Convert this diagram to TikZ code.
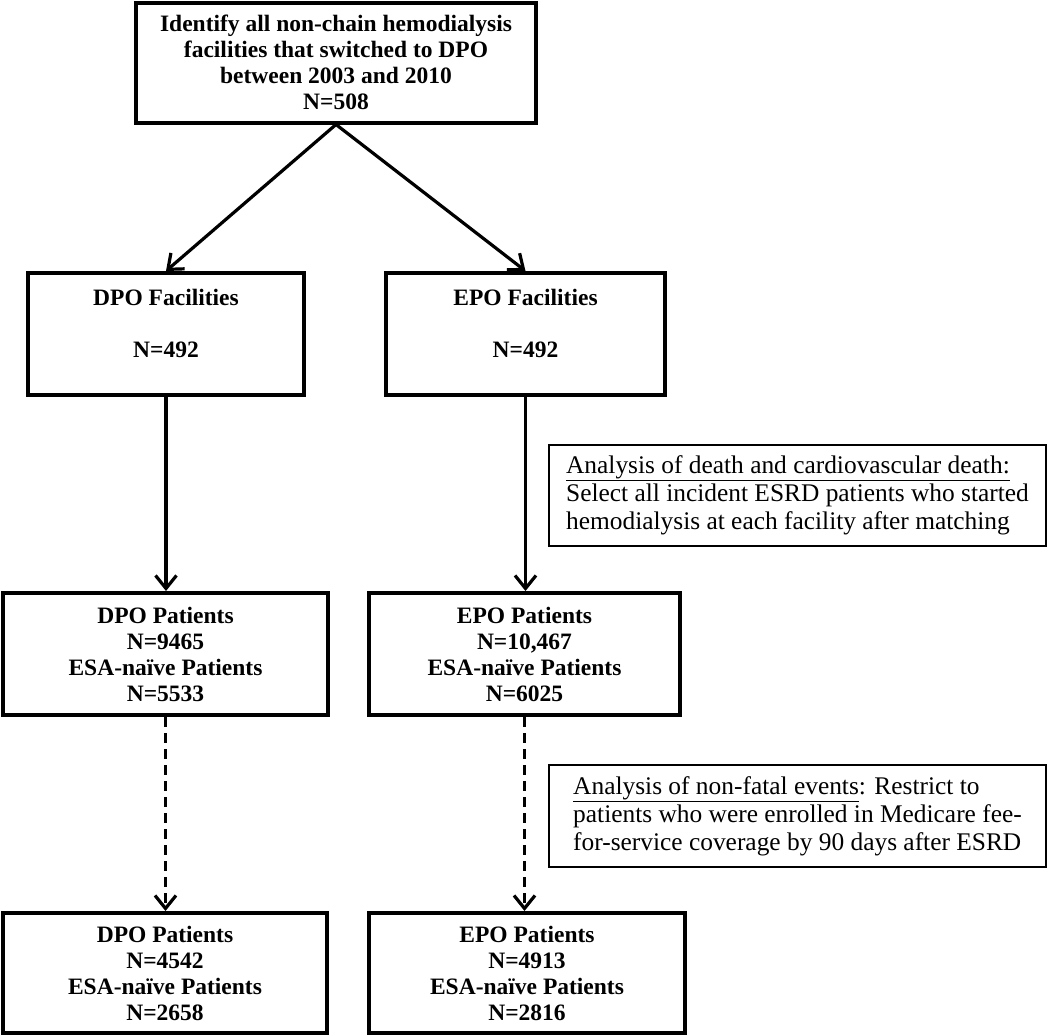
\documentclass[tikz,border=0pt]{standalone}
\usepackage{fontspec}
\setmainfont{Liberation Serif}
\usetikzlibrary{arrows.meta}
\begin{document}
\begin{tikzpicture}[x=1pt,y=-1pt,
  box/.style={draw, line width=4pt, inner sep=0pt, align=center,
    font=\fontsize{23.5}{26}\selectfont\bfseries},
  btext/.style={inner sep=0pt, align=center, font=\fontsize{23.5}{26}\selectfont\bfseries},
  note/.style={draw, line width=2pt, inner sep=0pt, align=left,
    font=\fontsize{25.4}{28}\selectfont},
  arr/.style={line width=3.2pt, -{Straight Barb[length=13pt,width=21pt]}},
  darr/.style={arr, dash pattern=on 10pt off 6pt}]
\useasboundingbox (0,0) rectangle (1050,1036);

\node[box, minimum width=400pt, minimum height=120pt] (top) at (336,62.5)
  {Identify all non-chain hemodialysis\\facilities that switched to DPO\\between 2003 and 2010\\N=508};

\node[box, minimum width=276pt, minimum height=122pt] (dpof) at (166,334) {};
\node[btext] (dpoft) at (166,323.5) {DPO Facilities\\[26pt]N=492};
\node[box, minimum width=279pt, minimum height=122pt] (epof) at (525.5,334) {};
\node[btext] (epoft) at (525.5,323.5) {EPO Facilities\\[26pt]N=492};

\node[box, minimum width=325pt, minimum height=122pt] (dpom) at (165.5,654)
  {DPO Patients\\N=9465\\ESA-naïve Patients\\N=5533};
\node[box, minimum width=311pt, minimum height=122pt] (epom) at (524.5,654)
  {EPO Patients\\N=10,467\\ESA-naïve Patients\\N=6025};

\node[box, minimum width=324pt, minimum height=120pt] (dpob) at (165,973)
  {DPO Patients\\N=4542\\ESA-naïve Patients\\N=2658};
\node[box, minimum width=316pt, minimum height=120pt] (epob) at (527,973)
  {EPO Patients\\N=4913\\ESA-naïve Patients\\N=2816};

\node[note, minimum width=497pt, minimum height=101pt] (note1) at (797.5,495.5)
  {\underline{Analysis of death and cardiovascular death:}\\Select all incident ESRD patients who started\\hemodialysis at each facility after matching};
\node[note, minimum width=497pt, minimum height=102pt] (note2) at (797.5,816)
  {\underline{Analysis of non-fatal events}: Restrict to\\patients who were enrolled in Medicare fee-\\for-service coverage by 90 days after ESRD};

\draw[arr] (top.south) -- (dpof.north);
\draw[arr] (top.south) -- (epof.north);
\draw[arr] (dpof.south) -- (dpof.south |- dpom.north);
\draw[arr] (epof.south) -- (epof.south |- epom.north);
\draw[darr] (dpom.south) -- (dpom.south |- dpob.north);
\draw[darr] (epom.south) -- (epom.south |- epob.north);
\end{tikzpicture}
\end{document}
